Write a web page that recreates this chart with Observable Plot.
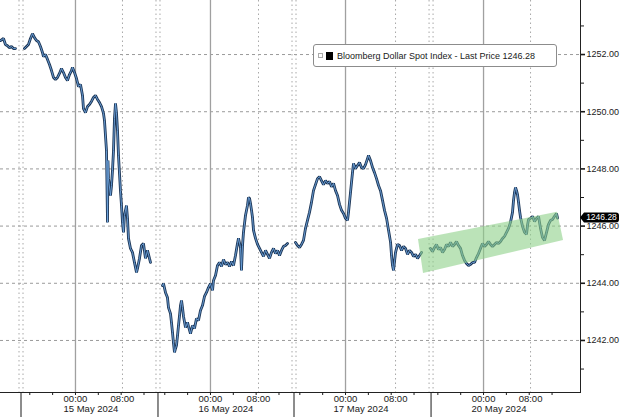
<!DOCTYPE html>
<html>
<head>
<meta charset="utf-8">
<script src="https://cdn.jsdelivr.net/npm/d3@7"></script>
<script src="https://cdn.jsdelivr.net/npm/@observablehq/plot@0.6"></script>
<style>
  html, body { margin: 0; padding: 0; background: #fff; }
  #wrap { position: relative; width: 620px; height: 417px; overflow: hidden; font-family: "Liberation Sans", Arial, sans-serif; }
  #legend { position: absolute; left: 313px; top: 44px; width: 244px; height: 23px; border: 1px solid #8c8c8c; border-radius: 3px; background: #fff; display: flex; align-items: center; font-size: 9px; color: #1a1a1a; box-sizing: border-box; }
  #legend .ic { width: 5px; height: 5px; border: 1px solid #aaa; margin-left: 4px; margin-right: 3px; box-sizing: border-box; }
  #legend .sq { width: 7px; height: 8px; background: #000; margin-right: 4px; }
</style>
</head>
<body>
<div id="wrap"><div id="legend"><span class="ic"></span><span class="sq"></span><span id="legtext"></span></div></div>
<script>
// ---- data: hours since the 14 May session opened (weekend removed), price ----
const seriesName = "Bloomberg Dollar Spot Index";
const lastPrice = 1246.28;
const sessions = ["14 May", "15 May", "16 May", "17 May", "20 May"];

const hours14 = [-3.50,-2.98,-2.63,-2.28,-1.93,-1.58,-1.23,-0.88];
const price14 = [1252.49,1252.56,1252.35,1252.31,1252.24,1252.28,1252.21,1252.21];

const hours15 = [0.70,1.05,1.40,1.75,2.10,2.45,2.80,3.15,3.50,3.85,4.03,4.38,4.73,5.08,5.43,5.78,6.13,6.48,6.83,7.18,7.53,7.88,8.23,8.58,8.93,9.11,9.46,9.81,10.16,10.51,10.86,11.03,11.38,11.73,12.08,12.43,12.78,13.13,13.49,13.84,14.19,14.54,14.71,15.06,15.24,15.32,15.41,15.76,15.94,16.11,16.29,16.46,16.64,16.81,16.99,17.16,17.51,17.69,17.86,18.04,18.21,18.56,18.74,18.91,19.26,19.61,19.96,20.32,20.49,20.84,21.19,21.54,21.89,22.24,22.59,22.77];
const price15 = [1252.21,1252.28,1252.35,1252.56,1252.73,1252.59,1252.49,1252.45,1252.28,1252.07,1251.93,1252.00,1251.83,1251.65,1251.44,1251.20,1251.13,1251.20,1251.34,1251.51,1251.37,1251.20,1251.09,1251.30,1251.44,1251.55,1251.37,1251.16,1250.88,1250.95,1250.57,1250.11,1249.97,1250.18,1250.25,1250.36,1250.50,1250.57,1250.43,1250.32,1250.18,1249.94,1249.69,1248.64,1246.13,1248.29,1247.66,1247.07,1247.42,1247.94,1248.64,1249.76,1250.29,1249.97,1249.34,1248.47,1247.24,1246.72,1246.13,1245.78,1246.37,1246.72,1246.27,1245.57,1245.22,1245.08,1244.73,1244.38,1244.52,1244.87,1245.32,1245.39,1244.87,1245.15,1244.87,1244.73];

const hours16 = [24.87,25.04,25.39,25.74,25.92,26.27,26.44,26.62,26.80,26.97,27.15,27.32,27.50,27.67,27.85,28.02,28.20,28.37,28.55,28.90,29.25,29.42,29.77,30.12,30.47,30.82,31.17,31.52,31.87,32.22,32.57,32.92,33.27,33.63,33.80,34.15,34.50,34.85,35.20,35.55,35.90,36.25,36.60,36.95,37.30,37.65,38.00,38.18,38.53,38.70,38.88,39.05,39.40,39.75,39.93,40.11,40.28,40.46,40.63,40.81,41.16,41.51,41.86,42.21,42.56,42.91,43.26,43.61,43.96,44.31,44.66,45.01,45.36,45.71,46.06,46.41,46.76];
const price16 = [1243.92,1243.99,1243.68,1243.50,1243.15,1242.94,1242.63,1242.28,1241.90,1241.58,1241.72,1241.83,1242.17,1242.52,1242.87,1243.22,1243.40,1243.15,1242.84,1242.45,1242.63,1242.49,1242.24,1242.52,1242.42,1242.77,1242.70,1243.05,1243.22,1243.54,1243.68,1243.85,1243.99,1243.75,1244.10,1244.27,1244.62,1244.73,1244.59,1244.83,1244.66,1244.73,1244.59,1244.76,1244.62,1244.97,1245.39,1245.57,1245.25,1244.45,1245.32,1245.78,1246.37,1246.72,1247.00,1246.97,1246.79,1246.55,1246.30,1245.85,1245.57,1245.36,1245.22,1245.08,1244.94,1245.15,1245.01,1244.87,1245.08,1245.22,1245.04,1245.15,1244.97,1245.15,1245.29,1245.32,1245.39];

const hours17 = [48.16,48.51,48.86,49.21,49.56,49.91,50.26,50.61,50.96,51.31,51.66,52.01,52.36,52.71,53.06,53.42,53.77,54.12,54.47,54.82,55.17,55.52,55.87,56.22,56.57,56.92,57.27,57.44,57.79,58.14,58.32,58.67,59.02,59.37,59.72,60.07,60.42,60.77,60.95,61.30,61.65,62.00,62.35,62.70,63.05,63.40,63.75,64.11,64.46,64.81,64.98,65.15,65.33,65.68,66.03,66.38,66.73,67.08,67.43,67.78,68.13,68.48,68.83,69.18,69.53,69.88,70.23];
const price17 = [1245.43,1245.32,1245.25,1245.36,1245.50,1245.92,1246.20,1246.48,1246.83,1247.24,1247.45,1247.66,1247.73,1247.59,1247.45,1247.59,1247.49,1247.56,1247.38,1247.49,1247.24,1247.07,1246.76,1246.55,1246.44,1246.27,1246.20,1246.48,1247.17,1247.87,1248.19,1248.01,1248.12,1248.22,1248.05,1248.01,1248.15,1248.36,1248.47,1248.29,1248.05,1247.87,1247.66,1247.42,1247.24,1246.90,1246.55,1246.27,1245.85,1245.43,1244.97,1244.62,1244.45,1245.08,1245.36,1245.32,1245.15,1245.29,1245.22,1245.01,1245.15,1245.08,1244.94,1245.01,1244.87,1244.97,1245.08];

const hours20 = [71.80,72.15,72.50,72.85,73.20,73.56,73.91,74.26,74.61,74.96,75.31,75.66,76.01,76.36,76.71,77.06,77.41,77.76,78.11,78.46,78.81,79.16,79.51,79.86,80.21,80.56,80.91,81.26,81.61,81.96,82.31,82.66,83.01,83.36,83.71,84.06,84.41,84.76,85.11,85.46,85.81,86.16,86.34,86.51,86.69,86.87,87.04,87.22,87.39,87.57,87.92,88.27,88.62,88.79,88.97,89.32,89.67,90.02,90.37,90.72,91.07,91.42,91.77,92.12,92.47,92.82,93.17,93.52,93.87,94.05];
const price20 = [1245.22,1245.11,1245.25,1245.36,1245.18,1245.25,1245.08,1245.18,1245.36,1245.29,1245.43,1245.29,1245.36,1245.46,1245.32,1245.22,1244.97,1244.80,1244.69,1244.62,1244.66,1244.73,1244.73,1244.90,1245.04,1245.22,1245.39,1245.29,1245.36,1245.46,1245.36,1245.29,1245.36,1245.43,1245.39,1245.46,1245.57,1245.64,1245.78,1245.92,1246.13,1246.48,1246.90,1247.17,1247.35,1247.24,1247.10,1246.83,1246.55,1246.30,1245.99,1245.78,1245.71,1246.03,1246.23,1246.27,1246.34,1246.16,1246.27,1246.34,1245.92,1245.60,1245.50,1245.78,1246.06,1246.20,1246.23,1246.34,1246.44,1246.28];

// trend channel drawn on 20 May (lower edge -> upper edge)
const bandHoursLow = [70.58, 95.10];
const bandPriceLow = [1244.34, 1245.50];
const bandHoursHigh = [69.70, 94.05];
const bandPriceHigh = [1245.53, 1246.48];

// axis ticks
const yTicks = [1242, 1244, 1246, 1248, 1250, 1252];
const yMinorTicks = [1241, 1243, 1245, 1247, 1249, 1251, 1253];
const dayLabels = ["15 May 2024", "16 May 2024", "17 May 2024", "20 May 2024"];
const midnightHours = [9.63, 33.27, 56.92, 81.09];
const eightHours = [17.86, 41.68, 65.68, 89.32];
const sessionStartHours = [0.09, 24.08, 47.90, 71.90];
const minorOffsets = [-8, -4, 0, 4, 8, 12];

// ---- build tables ----
const hoursAll = [hours14, hours15, hours16, hours17, hours20];
const priceAll = [price14, price15, price16, price17, price20];
const rows = hoursAll.flatMap((h, k) => h.map((t, i) => ({t, v: priceAll[k][i], s: sessions[k]})));
const band = bandHoursLow.map((t, i) => ({x1: t, y1: bandPriceLow[i], x2: bandHoursHigh[i], y2: bandPriceHigh[i]}));
const minorTicks = midnightHours.flatMap(m => minorOffsets.map(o => m + o));
const timeTicks = [...midnightHours.map(t => ({t, label: "00:00"})), ...eightHours.map(t => ({t, label: "08:00"}))];
const dateTicks = midnightHours.map((t, i) => ({t, label: dayLabels[i]}));

document.getElementById("legtext").textContent = `${seriesName} - Last Price ${lastPrice.toFixed(2)}`;

const priceTag = (index, scales, values, dims) => {
  const y = scales.y(lastPrice);
  const x = dims.width - dims.marginRight;
  const g = d3.create("svg:g");
  g.append("path")
    .attr("d", `M${x},${y} L${x + 4},${y - 5} H${x + 36} Q${x + 39},${y - 5} ${x + 39},${y - 2} V${y + 2} Q${x + 39},${y + 5} ${x + 36},${y + 5} H${x + 4} Z`)
    .attr("fill", "#000");
  g.append("text")
    .attr("x", x + 21.5).attr("y", y).attr("dy", "0.33em")
    .attr("text-anchor", "middle").attr("fill", "#fff")
    .attr("font-size", 8.5).attr("font-family", "Liberation Sans, Arial, sans-serif")
    .text(lastPrice.toFixed(2));
  return g.node();
};

const chart = Plot.plot({
  width: 620,
  height: 417,
  marginLeft: 0,
  marginRight: 40,
  marginTop: 0,
  marginBottom: 25,
  style: {fontFamily: "Liberation Sans, Arial, sans-serif", fontSize: "9px", color: "#1a1a1a", background: "#fff", overflow: "visible"},
  x: {domain: [-3.5, 98.07], axis: null},
  y: {domain: [1240.18, 1253.89], axis: null},
  marks: [
    Plot.ruleY(yTicks, {stroke: "#9a9a9a", strokeWidth: 1, strokeDasharray: "3,3"}),
    Plot.ruleX(midnightHours, {stroke: "#a0a0a0", strokeWidth: 1.3}),
    Plot.ruleX(eightHours, {stroke: "#a8a8a8", strokeWidth: 1, strokeDasharray: "1.5,3"}),
    Plot.ruleX(sessionStartHours, {stroke: "#a8a8a8", strokeWidth: 1, strokeDasharray: "1.5,3", dx: -2}),
    Plot.ruleX(sessionStartHours, {stroke: "#a8a8a8", strokeWidth: 1, strokeDasharray: "1.5,3", dx: 2}),
    Plot.line(rows, {x: "t", y: "v", z: "s", stroke: "#1d3656", strokeWidth: 2.8, strokeLinejoin: "miter", curve: "linear"}),
    Plot.line(rows, {x: "t", y: "v", z: "s", stroke: "#6fa6e0", strokeWidth: 0.9, curve: "linear"}),
    Plot.area(band, {x1: "x1", y1: "y1", x2: "x2", y2: "y2", fill: "#8dd088", fillOpacity: 0.6}),
    Plot.frame({anchor: "bottom", stroke: "#222"}),
    Plot.frame({anchor: "right", stroke: "#222"}),
    Plot.axisY({anchor: "right", ticks: yTicks, tickFormat: d3.format(".2f"), tickSize: 4, tickPadding: 2, strokeWidth: 1.6, fill: "#1a1a1a", fontSize: 9}),
    Plot.axisY({anchor: "right", ticks: yMinorTicks, tickFormat: () => "", tickSize: 3}),
    Plot.axisX({anchor: "bottom", ticks: minorTicks, tickFormat: () => "", tickSize: 3}),
    Plot.axisX({anchor: "bottom", ticks: sessionStartHours, tickFormat: () => "", tickSize: 25}),
    Plot.text(timeTicks, {x: "t", text: "label", frameAnchor: "bottom", lineAnchor: "top", dy: 3, fontSize: 9.5, fill: "#1a1a1a"}),
    Plot.text(dateTicks, {x: "t", text: "label", frameAnchor: "bottom", lineAnchor: "top", dy: 13, dx: -12, textAnchor: "start", fontSize: 9.5, fill: "#1a1a1a"}),
    priceTag
  ]
});
document.getElementById("wrap").prepend(chart);
</script>
</body>
</html>
